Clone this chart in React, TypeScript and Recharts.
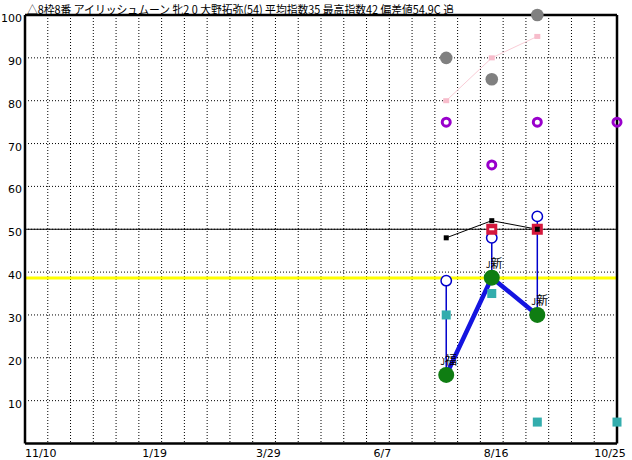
import React from 'react';
import { ComposedChart, Line, XAxis, YAxis, CartesianGrid, ReferenceLine } from 'recharts';

// ---- text ----
const TITLE = '△8枠8番 アイリッシュムーン 牝2 0 大野拓弥(54) 平均指数35 最高指数42 偏差値54.9C 追';

// ---- axes ----
const AXIS_START = '2023-10-28';
const AXIS_END = '2024-10-26';
const GRID_STEP_DAYS = 14;
const LABEL_EVERY = 5;
const xTickLabels = ['11/10', '1/19', '3/29', '6/7', '8/16', '10/25'];
const yTicks = [0, 10, 20, 30, 40, 50, 60, 70, 80, 90, 100];

// ---- races ----
const raceDates = ['2024-07-13', '2024-08-10', '2024-09-07'];
const nextRaceDate = '2024-10-26';
const grayValues = [90, 85, 100];
const pinkValues = [80, 90, 95];
const purpleValues = [75, 65, 75];
const purpleNext = 75;
const blackValues = [48, 52, 50];
const redValues: (number | null)[] = [null, 50, 50];
const blueValues = [38, 48, 53];
const greenValues = [16, 38.7, 30];
const tealValues = [30, 35, 5];
const tealNext = 5;
const raceNotes = ['福', '新', '新'];
const AVERAGE_LINE = 38.6;
const BASE_LINE = 50;

// ---- derived ----
const DAY_MS = 86400000;
const dayOf = (d: string) => Math.round((Date.parse(d) - Date.parse(AXIS_START)) / DAY_MS);
const TOTAL_DAYS = dayOf(AXIS_END);
const raceX = raceDates.map(dayOf);
const nextX = dayOf(nextRaceDate);
const xTicks = Array.from({ length: Math.floor(TOTAL_DAYS / GRID_STEP_DAYS) + 1 }, (_, i) => i * GRID_STEP_DAYS);

const pts = (vals: (number | null)[]) =>
  raceX.map((x, i) => ({ x, y: vals[i] })).filter((d) => d.y !== null);

const grayData = pts(grayValues);
const pinkData = pts(pinkValues);
const purpleData = [...pts(purpleValues), { x: nextX, y: purpleNext }];
const blackData = pts(blackValues);
const redData = pts(redValues);
const blueData = pts(blueValues);
const greenData = raceX.map((x, i) => ({ x, y: greenValues[i], note: raceNotes[i] }));
const tealData = [...pts(tealValues), { x: nextX, y: tealNext }];
const stems = raceX.map((x, i) => [
  { x, y: blueValues[i] },
  { x, y: greenValues[i] },
]);

const FONT_NUM = '"DejaVu Sans", sans-serif';
const FONT_JP = '"Noto Sans CJK JP", sans-serif';

const dot = (render: (p: any) => React.ReactElement) => (p: any) => {
  if (p.cx == null || p.cy == null || p.value == null) return <g key={`e-${p.index}`} />;
  return <g key={`d-${p.index}`}>{render(p)}</g>;
};

const XTick = (p: any) => {
  const v = p.payload?.value ?? 0;
  const i = Math.round(v / GRID_STEP_DAYS);
  if (i < 1 || (i - 1) % LABEL_EVERY !== 0) return <g />;
  const label = xTickLabels[(i - 1) / LABEL_EVERY];
  if (!label) return <g />;
  return (
    <text x={p.x - 7} y={p.y + 13} textAnchor="middle" fontSize={11} fontFamily={FONT_NUM} fill="#000">
      {label}
    </text>
  );
};

const YTick = (p: any) => {
  const v = p.payload?.value;
  if (!v) return <g />;
  return (
    <text x={p.x - 3} y={p.y + 7} textAnchor="end" fontSize={11} fontFamily={FONT_NUM} fill="#000">
      {v}
    </text>
  );
};

const GreenDot = dot((p) => <circle cx={p.cx} cy={p.cy} r={8} fill="#0f7d12" />);

const NoteDot = dot((p) => (
  <text x={p.cx - 6} y={p.cy - 10} fontFamily={FONT_JP} fill="#000">
    <tspan fontSize={9}>J</tspan>
    <tspan fontSize={12}>{p.payload.note}</tspan>
  </text>
));

export default function App() {
  return (
    <div style={{ position: 'absolute', left: 0, top: 0, width: 632, height: 460, background: '#fff' }}>
      <ComposedChart
        width={632}
        height={460}
        margin={{ top: 15, right: 15, bottom: 0, left: 0 }}
        style={{ background: '#fff' }}
      >
        <CartesianGrid stroke="#000" strokeDasharray="1 2" />
        <XAxis
          type="number"
          dataKey="x"
          domain={[0, TOTAL_DAYS]}
          ticks={xTicks}
          interval={0}
          axisLine={false}
          tickLine={false}
          tickSize={0}
          tickMargin={0}
          height={16.5}
          tick={<XTick />}
        />
        <YAxis
          type="number"
          domain={[0, 100]}
          ticks={yTicks}
          interval={0}
          axisLine={false}
          tickLine={false}
          tickSize={0}
          tickMargin={0}
          width={25}
          tick={<YTick />}
        />
        <ReferenceLine y={BASE_LINE} stroke="#000" strokeWidth={1} />
        <ReferenceLine y={AVERAGE_LINE} stroke="#ffff00" strokeWidth={3} />
        <ReferenceLine x={0} stroke="#000" strokeWidth={2.5} />
        <ReferenceLine x={TOTAL_DAYS} stroke="#000" strokeWidth={2.5} />
        <ReferenceLine y={0} stroke="#000" strokeWidth={2.5} />
        <ReferenceLine y={100} stroke="#000" strokeWidth={2.5} />

        {stems.map((d, i) => (
          <Line
            key={`stem-${i}`}
            data={d}
            dataKey="y"
            type="linear"
            stroke="#0000cc"
            strokeWidth={1.5}
            dot={false}
            activeDot={false}
            isAnimationActive={false}
          />
        ))}
        <Line
          data={greenData}
          dataKey="y"
          type="linear"
          stroke="none"
          dot={GreenDot}
          activeDot={false}
          isAnimationActive={false}
        />
        <Line
          data={greenData}
          dataKey="y"
          type="linear"
          stroke="#1414e0"
          strokeWidth={4.5}
          dot={false}
          activeDot={false}
          isAnimationActive={false}
        />
        <Line
          data={blueData}
          dataKey="y"
          type="linear"
          stroke="none"
          dot={dot((p) => (
            <circle cx={p.cx} cy={p.cy} r={5.2} fill="#fff" stroke="#0000cc" strokeWidth={1.5} />
          ))}
          activeDot={false}
          isAnimationActive={false}
        />
        <Line
          data={tealData}
          dataKey="y"
          type="linear"
          stroke="none"
          dot={dot((p) => <rect x={p.cx - 4.5} y={p.cy - 4.5} width={9} height={9} fill="#33adad" />)}
          activeDot={false}
          isAnimationActive={false}
        />
        <Line
          data={grayData}
          dataKey="y"
          type="linear"
          stroke="none"
          dot={dot((p) => <circle cx={p.cx} cy={p.cy} r={6.3} fill="#808080" />)}
          activeDot={false}
          isAnimationActive={false}
        />
        <Line
          data={pinkData}
          dataKey="y"
          type="linear"
          stroke="#f9ccd6"
          strokeWidth={1}
          dot={dot((p) => <rect x={p.cx - 3} y={p.cy - 2.5} width={6} height={5} fill="#f7bccb" />)}
          activeDot={false}
          isAnimationActive={false}
        />
        <Line
          data={purpleData}
          dataKey="y"
          type="linear"
          stroke="none"
          dot={dot((p) => <circle cx={p.cx} cy={p.cy} r={4} fill="none" stroke="#9900cc" strokeWidth={3} />)}
          activeDot={false}
          isAnimationActive={false}
        />
        <Line
          data={redData}
          dataKey="y"
          type="linear"
          stroke="none"
          dot={dot((p) => (
            <>
              <rect x={p.cx - 5.5} y={p.cy - 5.5} width={11} height={11} fill="#d4183c" />
              <rect x={p.cx - 2.5} y={p.cy - 1} width={5} height={2} fill="#fff" />
            </>
          ))}
          activeDot={false}
          isAnimationActive={false}
        />
        <Line
          data={blackData}
          dataKey="y"
          type="linear"
          stroke="#000"
          strokeWidth={1}
          dot={dot((p) => <rect x={p.cx - 2.5} y={p.cy - 2.5} width={5} height={5} fill="#000" />)}
          activeDot={false}
          isAnimationActive={false}
        />
        <Line
          data={greenData}
          dataKey="y"
          type="linear"
          stroke="none"
          dot={NoteDot}
          activeDot={false}
          isAnimationActive={false}
        />
      </ComposedChart>
      <svg width={632} height={24} style={{ position: 'absolute', left: 0, top: 0, pointerEvents: 'none' }}>
        <text x={27} y={13.5} fontSize={11.5} fontFamily={FONT_JP} fill="#000" textLength={427} lengthAdjust="spacingAndGlyphs">
          {TITLE}
        </text>
      </svg>
    </div>
  );
}
